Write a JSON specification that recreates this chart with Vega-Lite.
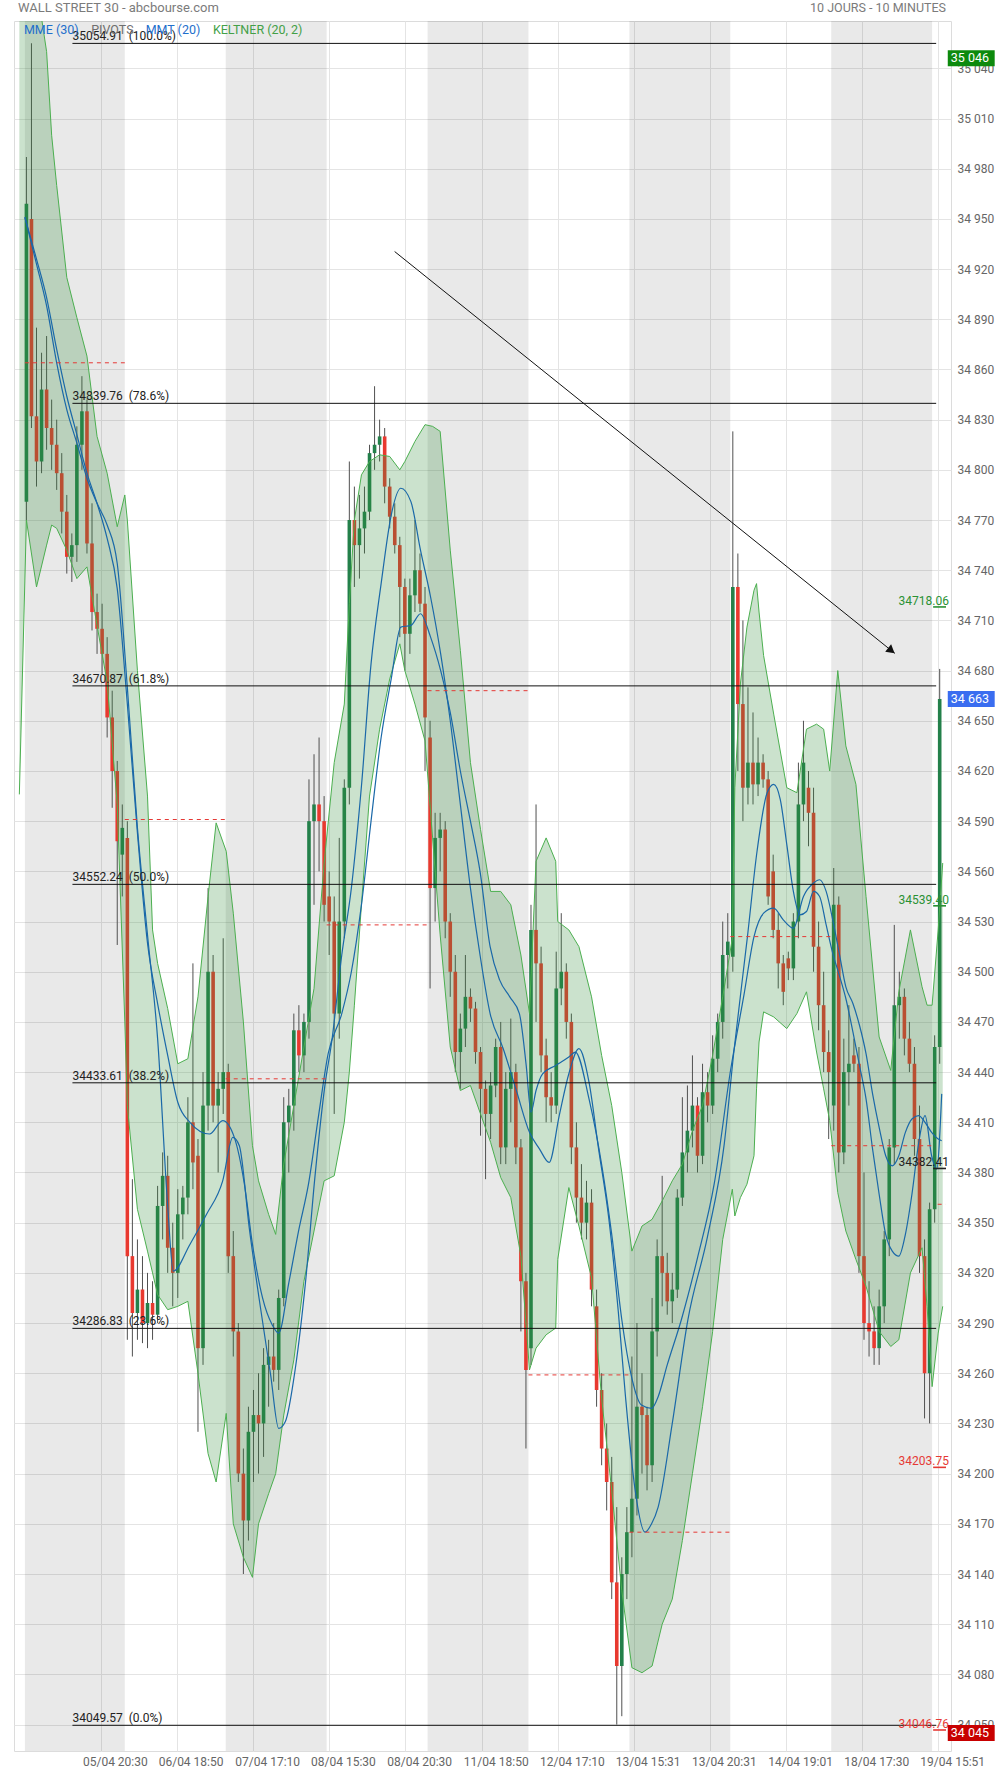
{
"$schema": "https://vega.github.io/schema/vega-lite/v6.json",
"width": 937, "height": 1730, "autosize": "none",
"padding": {"left": 14, "top": 21, "right": 49, "bottom": 23},
"background": "white",
"config": {"view": {"stroke": "#dcdcdc"}, "text": {"font": "Roboto"}, "axis": {"labelFont": "Roboto"}},
"resolve": {"scale": {"color": "independent"}},
"datasets": {
"bands": [{"a":-0.3,"b":19.5},{"a":39.5,"b":59.5},{"a":79.5,"b":99.5},{"a":119.5,"b":139.5},{"a":159.5,"b":179.5}],
"pivots": [{"a":-0.3,"b":19.5,"v":34864},{"a":19.5,"b":39.5,"v":34591},{"a":39.5,"b":59.5,"v":34436},{"a":59.5,"b":79.5,"v":34528},{"a":79.5,"b":99.5,"v":34668},{"a":99.5,"b":119.5,"v":34259},{"a":119.5,"b":139.5,"v":34165},{"a":139.5,"b":159.5,"v":34521},{"a":159.5,"b":179.5,"v":34396},{"a":180.6,"b":182.2,"v":34361}],
"candles": [
{"t":0,"o":34781,"h":34987,"l":34770,"c":34959},{"t":1,"o":34950,"h":35055,"l":34825,"c":34832},{"t":2,"o":34832,"h":34885,"l":34790,"c":34805},{"t":3,"o":34805,"h":34870,"l":34798,"c":34848},{"t":4,"o":34848,"h":34880,"l":34812,"c":34825},{"t":5,"o":34825,"h":34842,"l":34800,"c":34815},{"t":6,"o":34815,"h":34830,"l":34788,"c":34798},{"t":7,"o":34798,"h":34810,"l":34762,"c":34775},{"t":8,"o":34775,"h":34785,"l":34738,"c":34748},{"t":9,"o":34748,"h":34762,"l":34733,"c":34755},
{"t":10,"o":34755,"h":34826,"l":34745,"c":34815},{"t":11,"o":34815,"h":34856,"l":34800,"c":34835},{"t":12,"o":34835,"h":34842,"l":34750,"c":34756},{"t":13,"o":34756,"h":34780,"l":34704,"c":34715},{"t":14,"o":34715,"h":34726,"l":34690,"c":34705},{"t":15,"o":34705,"h":34720,"l":34678,"c":34690},{"t":16,"o":34690,"h":34700,"l":34640,"c":34652},{"t":17,"o":34652,"h":34668,"l":34598,"c":34620},{"t":18,"o":34620,"h":34626,"l":34516,"c":34578},{"t":19,"o":34570,"h":34600,"l":34545,"c":34586},
{"t":20,"o":34580,"h":34590,"l":34280,"c":34330},{"t":21,"o":34330,"h":34376,"l":34270,"c":34296},{"t":22,"o":34296,"h":34340,"l":34280,"c":34310},{"t":23,"o":34310,"h":34330,"l":34278,"c":34290},{"t":24,"o":34290,"h":34320,"l":34275,"c":34302},{"t":25,"o":34302,"h":34315,"l":34280,"c":34295},{"t":26,"o":34295,"h":34372,"l":34290,"c":34360},{"t":27,"o":34360,"h":34392,"l":34340,"c":34378},{"t":28,"o":34378,"h":34390,"l":34320,"c":34335},{"t":29,"o":34335,"h":34350,"l":34300,"c":34320},
{"t":30,"o":34320,"h":34370,"l":34305,"c":34355},{"t":31,"o":34355,"h":34372,"l":34340,"c":34365},{"t":32,"o":34365,"h":34425,"l":34355,"c":34410},{"t":33,"o":34410,"h":34505,"l":34370,"c":34386},{"t":34,"o":34390,"h":34400,"l":34225,"c":34275},{"t":35,"o":34275,"h":34440,"l":34265,"c":34420},{"t":36,"o":34420,"h":34550,"l":34405,"c":34500},{"t":37,"o":34500,"h":34510,"l":34410,"c":34420},{"t":38,"o":34420,"h":34440,"l":34380,"c":34430},{"t":39,"o":34430,"h":34520,"l":34415,"c":34440},
{"t":40,"o":34440,"h":34445,"l":34320,"c":34330},{"t":41,"o":34330,"h":34345,"l":34270,"c":34285},{"t":42,"o":34285,"h":34290,"l":34195,"c":34200},{"t":43,"o":34200,"h":34215,"l":34140,"c":34172},{"t":44,"o":34172,"h":34240,"l":34160,"c":34225},{"t":45,"o":34225,"h":34250,"l":34195,"c":34235},{"t":46,"o":34235,"h":34260,"l":34200,"c":34230},{"t":47,"o":34230,"h":34275,"l":34210,"c":34265},{"t":48,"o":34265,"h":34280,"l":34240,"c":34270},{"t":49,"o":34270,"h":34290,"l":34255,"c":34262},
{"t":50,"o":34262,"h":34310,"l":34250,"c":34305},{"t":51,"o":34305,"h":34425,"l":34300,"c":34410},{"t":52,"o":34410,"h":34430,"l":34380,"c":34420},{"t":53,"o":34420,"h":34475,"l":34405,"c":34465},{"t":54,"o":34465,"h":34480,"l":34440,"c":34450},{"t":55,"o":34450,"h":34475,"l":34440,"c":34470},{"t":56,"o":34470,"h":34615,"l":34460,"c":34590},{"t":57,"o":34590,"h":34630,"l":34540,"c":34600},{"t":58,"o":34600,"h":34640,"l":34560,"c":34590},{"t":59,"o":34590,"h":34605,"l":34530,"c":34540},
{"t":60,"o":34545,"h":34560,"l":34510,"c":34530},{"t":61,"o":34530,"h":34545,"l":34415,"c":34475},{"t":62,"o":34475,"h":34580,"l":34460,"c":34530},{"t":63,"o":34530,"h":34615,"l":34520,"c":34610},{"t":64,"o":34610,"h":34805,"l":34600,"c":34770},{"t":65,"o":34770,"h":34790,"l":34730,"c":34755},{"t":66,"o":34755,"h":34785,"l":34735,"c":34765},{"t":67,"o":34765,"h":34790,"l":34750,"c":34775},{"t":68,"o":34775,"h":34815,"l":34770,"c":34810},{"t":69,"o":34810,"h":34850,"l":34800,"c":34815},
{"t":70,"o":34815,"h":34830,"l":34805,"c":34820},{"t":71,"o":34820,"h":34825,"l":34780,"c":34790},{"t":72,"o":34790,"h":34795,"l":34765,"c":34772},{"t":73,"o":34772,"h":34780,"l":34750,"c":34755},{"t":74,"o":34755,"h":34760,"l":34700,"c":34730},{"t":75,"o":34730,"h":34735,"l":34680,"c":34702},{"t":76,"o":34702,"h":34735,"l":34690,"c":34725},{"t":77,"o":34725,"h":34770,"l":34715,"c":34740},{"t":78,"o":34740,"h":34750,"l":34715,"c":34720},{"t":79,"o":34720,"h":34730,"l":34620,"c":34652},
{"t":80,"o":34640,"h":34650,"l":34490,"c":34550},{"t":81,"o":34550,"h":34595,"l":34530,"c":34580},{"t":82,"o":34580,"h":34595,"l":34560,"c":34585},{"t":83,"o":34585,"h":34590,"l":34520,"c":34530},{"t":84,"o":34530,"h":34535,"l":34485,"c":34500},{"t":85,"o":34500,"h":34510,"l":34440,"c":34452},{"t":86,"o":34452,"h":34475,"l":34430,"c":34466},{"t":87,"o":34466,"h":34510,"l":34455,"c":34485},{"t":88,"o":34485,"h":34490,"l":34470,"c":34478},{"t":89,"o":34478,"h":34482,"l":34445,"c":34452},
{"t":90,"o":34452,"h":34455,"l":34402,"c":34430},{"t":91,"o":34430,"h":34435,"l":34376,"c":34415},{"t":92,"o":34415,"h":34440,"l":34400,"c":34432},{"t":93,"o":34432,"h":34460,"l":34425,"c":34455},{"t":94,"o":34455,"h":34470,"l":34385,"c":34395},{"t":95,"o":34395,"h":34440,"l":34385,"c":34430},{"t":96,"o":34430,"h":34472,"l":34410,"c":34440},{"t":97,"o":34440,"h":34445,"l":34385,"c":34395},{"t":98,"o":34395,"h":34400,"l":34285,"c":34315},{"t":99,"o":34315,"h":34320,"l":34215,"c":34262},
{"t":100,"o":34275,"h":34540,"l":34265,"c":34525},{"t":101,"o":34525,"h":34600,"l":34470,"c":34505},{"t":102,"o":34505,"h":34515,"l":34440,"c":34450},{"t":103,"o":34450,"h":34460,"l":34410,"c":34425},{"t":104,"o":34425,"h":34440,"l":34410,"c":34420},{"t":105,"o":34420,"h":34512,"l":34415,"c":34490},{"t":106,"o":34490,"h":34535,"l":34480,"c":34500},{"t":107,"o":34500,"h":34505,"l":34460,"c":34470},{"t":108,"o":34470,"h":34475,"l":34385,"c":34395},{"t":109,"o":34395,"h":34410,"l":34350,"c":34365},
{"t":110,"o":34365,"h":34385,"l":34340,"c":34350},{"t":111,"o":34350,"h":34375,"l":34340,"c":34362},{"t":112,"o":34362,"h":34370,"l":34300,"c":34310},{"t":113,"o":34300,"h":34310,"l":34240,"c":34250},{"t":114,"o":34250,"h":34260,"l":34205,"c":34215},{"t":115,"o":34215,"h":34230,"l":34178,"c":34195},{"t":116,"o":34195,"h":34210,"l":34125,"c":34135},{"t":117,"o":34135,"h":34180,"l":34050,"c":34085},{"t":118,"o":34085,"h":34150,"l":34055,"c":34140},{"t":119,"o":34140,"h":34180,"l":34125,"c":34165},
{"t":120,"o":34165,"h":34270,"l":34150,"c":34185},{"t":121,"o":34185,"h":34290,"l":34175,"c":34240},{"t":122,"o":34240,"h":34260,"l":34200,"c":34235},{"t":123,"o":34235,"h":34240,"l":34190,"c":34205},{"t":124,"o":34205,"h":34305,"l":34195,"c":34285},{"t":125,"o":34285,"h":34340,"l":34270,"c":34330},{"t":126,"o":34330,"h":34378,"l":34300,"c":34320},{"t":127,"o":34320,"h":34332,"l":34295,"c":34303},{"t":128,"o":34303,"h":34320,"l":34290,"c":34310},{"t":129,"o":34310,"h":34370,"l":34305,"c":34365},
{"t":130,"o":34365,"h":34425,"l":34360,"c":34392},{"t":131,"o":34392,"h":34432,"l":34380,"c":34405},{"t":132,"o":34405,"h":34450,"l":34395,"c":34420},{"t":133,"o":34420,"h":34425,"l":34380,"c":34390},{"t":134,"o":34390,"h":34445,"l":34385,"c":34428},{"t":135,"o":34428,"h":34440,"l":34410,"c":34420},{"t":136,"o":34420,"h":34462,"l":34415,"c":34448},{"t":137,"o":34448,"h":34475,"l":34440,"c":34470},{"t":138,"o":34470,"h":34530,"l":34460,"c":34510},{"t":139,"o":34510,"h":34535,"l":34490,"c":34518},
{"t":140,"o":34509,"h":34823,"l":34500,"c":34730},{"t":141,"o":34730,"h":34750,"l":34620,"c":34660},{"t":142,"o":34660,"h":34710,"l":34590,"c":34610},{"t":143,"o":34610,"h":34670,"l":34600,"c":34625},{"t":144,"o":34625,"h":34655,"l":34600,"c":34612},{"t":145,"o":34612,"h":34640,"l":34605,"c":34625},{"t":146,"o":34625,"h":34630,"l":34610,"c":34615},{"t":147,"o":34615,"h":34620,"l":34540,"c":34545},{"t":148,"o":34560,"h":34570,"l":34520,"c":34525},{"t":149,"o":34525,"h":34535,"l":34490,"c":34505},
{"t":150,"o":34505,"h":34510,"l":34480,"c":34488},{"t":151,"o":34508,"h":34512,"l":34495,"c":34502},{"t":152,"o":34502,"h":34535,"l":34495,"c":34530},{"t":153,"o":34530,"h":34625,"l":34520,"c":34600},{"t":154,"o":34600,"h":34650,"l":34590,"c":34625},{"t":155,"o":34610,"h":34620,"l":34575,"c":34595},{"t":156,"o":34595,"h":34610,"l":34500,"c":34515},{"t":157,"o":34515,"h":34530,"l":34465,"c":34480},{"t":158,"o":34480,"h":34500,"l":34440,"c":34452},{"t":159,"o":34452,"h":34465,"l":34400,"c":34440},
{"t":160,"o":34420,"h":34562,"l":34405,"c":34540},{"t":161,"o":34540,"h":34545,"l":34380,"c":34392},{"t":162,"o":34392,"h":34460,"l":34385,"c":34440},{"t":163,"o":34440,"h":34480,"l":34420,"c":34445},{"t":164,"o":34450,"h":34460,"l":34440,"c":34445},{"t":165,"o":34445,"h":34455,"l":34320,"c":34330},{"t":166,"o":34330,"h":34380,"l":34280,"c":34290},{"t":167,"o":34290,"h":34315,"l":34270,"c":34285},{"t":168,"o":34285,"h":34300,"l":34265,"c":34275},{"t":169,"o":34275,"h":34310,"l":34265,"c":34300},
{"t":170,"o":34300,"h":34345,"l":34290,"c":34340},{"t":171,"o":34340,"h":34400,"l":34330,"c":34395},{"t":172,"o":34395,"h":34528,"l":34385,"c":34480},{"t":173,"o":34480,"h":34500,"l":34460,"c":34485},{"t":174,"o":34485,"h":34490,"l":34450,"c":34460},{"t":175,"o":34460,"h":34470,"l":34440,"c":34445},{"t":176,"o":34445,"h":34455,"l":34390,"c":34400},{"t":177,"o":34400,"h":34420,"l":34320,"c":34330},{"t":178,"o":34330,"h":34340,"l":34233,"c":34260},{"t":179,"o":34260,"h":34362,"l":34230,"c":34358},
{"t":180,"o":34358,"h":34462,"l":34350,"c":34455},{"t":181,"o":34455,"h":34681,"l":34445,"c":34663}],
"keltner": [
{"t":-1.4,"u":35100,"l":34606},{"t":0,"u":35100,"l":34770},{"t":2,"u":35090,"l":34730},{"t":4,"u":35050,"l":34755},{"t":5,"u":35000,"l":34767},{"t":6,"u":34970,"l":34765},{"t":8,"u":34915,"l":34752},{"t":10,"u":34891,"l":34735},{"t":12,"u":34868,"l":34742},{"t":14,"u":34820,"l":34707},{"t":16,"u":34798,"l":34673},{"t":18,"u":34766,"l":34600},{"t":19.5,"u":34785,"l":34470},{"t":20,"u":34770,"l":34420},{"t":22,"u":34680,"l":34358},{"t":24,"u":34605,"l":34333},{"t":25,"u":34525,"l":34320},{"t":26,"u":34505,"l":34307},{"t":28,"u":34478,"l":34298},{"t":30,"u":34445,"l":34300},
{"t":32,"u":34448,"l":34303},{"t":34,"u":34485,"l":34260},{"t":36,"u":34545,"l":34212},{"t":37.6,"u":34589,"l":34195},{"t":39.6,"u":34572,"l":34236},{"t":41,"u":34535,"l":34170},{"t":43,"u":34470,"l":34150},{"t":44.8,"u":34396,"l":34138},{"t":46,"u":34375,"l":34170},{"t":48,"u":34355,"l":34188},{"t":49.4,"u":34343,"l":34200},{"t":51,"u":34385,"l":34235},{"t":53,"u":34420,"l":34268},{"t":55,"u":34455,"l":34315},{"t":57,"u":34490,"l":34345},{"t":59,"u":34565,"l":34375},
{"t":61,"u":34625,"l":34378},{"t":63,"u":34660,"l":34410},{"t":64,"u":34720,"l":34440},{"t":65,"u":34770,"l":34480},{"t":66.4,"u":34797,"l":34540},{"t":68,"u":34805,"l":34605},{"t":70,"u":34809,"l":34645},{"t":72,"u":34808,"l":34675},{"t":74,"u":34800,"l":34696},{"t":75,"u":34805,"l":34680},{"t":77,"u":34817,"l":34660},{"t":79,"u":34827,"l":34638},{"t":80.5,"u":34826,"l":34580},{"t":82,"u":34823,"l":34522},{"t":84,"u":34752,"l":34455},{"t":86,"u":34692,"l":34429},{"t":88,"u":34625,"l":34432},{"t":90,"u":34585,"l":34415},
{"t":92,"u":34548,"l":34398},{"t":94,"u":34548,"l":34377},{"t":96,"u":34540,"l":34365},{"t":98,"u":34510,"l":34330},{"t":99.7,"u":34475,"l":34262},{"t":101,"u":34566,"l":34275},{"t":103,"u":34580,"l":34283},{"t":104.9,"u":34566,"l":34287},{"t":105.3,"u":34530,"l":34328},{"t":107.5,"u":34525,"l":34371},{"t":109.5,"u":34515,"l":34348},{"t":112,"u":34485,"l":34317},{"t":114,"u":34450,"l":34245},{"t":116,"u":34420,"l":34190},{"t":118,"u":34380,"l":34130},{"t":120,"u":34333,"l":34084},
{"t":122,"u":34348,"l":34081},{"t":124,"u":34352,"l":34085},{"t":126,"u":34363,"l":34110},{"t":128,"u":34375,"l":34125},{"t":130,"u":34385,"l":34160},{"t":132,"u":34405,"l":34200},{"t":134,"u":34420,"l":34240},{"t":136,"u":34450,"l":34285},{"t":138,"u":34485,"l":34340},{"t":139.9,"u":34520,"l":34370},{"t":140.4,"u":34610,"l":34354},{"t":141.5,"u":34672,"l":34365},{"t":142.8,"u":34706,"l":34373},{"t":144.2,"u":34728,"l":34390},{"t":144.7,"u":34732,"l":34430},{"t":145.2,"u":34715,"l":34458},{"t":146.1,"u":34689,"l":34476},{"t":148.1,"u":34654,"l":34473},
{"t":150.7,"u":34610,"l":34466},{"t":152.7,"u":34607,"l":34475},{"t":154.6,"u":34645,"l":34488},{"t":156.6,"u":34648,"l":34452},{"t":158,"u":34645,"l":34430},{"t":159.2,"u":34620,"l":34411},{"t":160.8,"u":34680,"l":34368},{"t":162.4,"u":34635,"l":34345},{"t":164.4,"u":34612,"l":34328},{"t":166.4,"u":34545,"l":34312},{"t":169,"u":34461,"l":34285},{"t":171.3,"u":34441,"l":34276},{"t":172.9,"u":34488,"l":34280},{"t":175.2,"u":34525,"l":34320},{"t":177.5,"u":34491,"l":34335},{"t":178.5,"u":34480,"l":34300},{"t":179.5,"u":34480,"l":34252},{"t":180.7,"u":34525,"l":34284},{"t":181.6,"u":34565,"l":34300}],
"mme": [{"t":-0.3,"v":34951},{"t":2,"v":34926},{"t":4,"v":34903},{"t":6,"v":34872},{"t":8,"v":34844},{"t":10,"v":34821},{"t":12,"v":34798},{"t":14,"v":34780},{"t":16,"v":34759},{"t":18,"v":34729},{"t":20,"v":34660},{"t":22,"v":34583},{"t":24,"v":34517},{"t":26,"v":34481},{"t":28,"v":34450},{"t":30,"v":34422},{"t":32.4,"v":34410},{"t":36.3,"v":34403},{"t":38.9,"v":34411},{"t":41.2,"v":34401},{"t":43.2,"v":34373},{"t":44.8,"v":34337},{"t":46.8,"v":34305},{"t":48.7,"v":34289},{"t":50,"v":34284},{"t":52,"v":34314},{"t":54,"v":34346},{"t":55.9,"v":34373},{"t":57.9,"v":34414},{"t":59.8,"v":34451},{"t":62.5,"v":34475},{"t":64.4,"v":34500},{"t":66.4,"v":34540},{"t":68.3,"v":34590},{"t":70.3,"v":34640},{"t":72.3,"v":34675},{"t":74.2,"v":34706},{"t":76.2,"v":34707},{"t":78.1,"v":34714},{"t":80.1,"v":34700},{"t":82.1,"v":34680},{"t":84,"v":34655},{"t":86,"v":34620},{"t":88,"v":34590},{"t":89.9,"v":34560},{"t":91.9,"v":34515},{"t":93.8,"v":34495},{"t":95.8,"v":34485},{"t":97.7,"v":34475},{"t":99.05,"v":34444},{"t":100,"v":34416},{"t":101,"v":34429},{"t":102.3,"v":34439},{"t":104.9,"v":34444},{"t":107.5,"v":34449},{"t":108.8,"v":34452},{"t":111.5,"v":34424},{"t":114.1,"v":34383},{"t":116,"v":34343},{"t":118,"v":34292},{"t":120,"v":34257},{"t":121.9,"v":34241},{"t":123.9,"v":34239},{"t":125.2,"v":34246},{"t":127,"v":34265},{"t":129.8,"v":34292},{"t":133,"v":34329},{"t":136.3,"v":34373},{"t":139.6,"v":34442},{"t":142.2,"v":34486},{"t":144.2,"v":34521},{"t":146.1,"v":34535},{"t":148.1,"v":34538},{"t":150,"v":34531},{"t":152,"v":34526},{"t":154,"v":34545},{"t":156,"v":34553},{"t":157.2,"v":34555},{"t":158.5,"v":34548},{"t":159.8,"v":34531},{"t":161.1,"v":34511},{"t":162.4,"v":34491},{"t":163.8,"v":34481},{"t":165.1,"v":34468},{"t":166.4,"v":34451},{"t":167.7,"v":34427},{"t":169,"v":34407},{"t":170.3,"v":34390},{"t":171.6,"v":34384},{"t":172.9,"v":34390},{"t":174.2,"v":34404},{"t":175.5,"v":34412},{"t":176.8,"v":34414},{"t":178.1,"v":34410},{"t":179.4,"v":34404},{"t":180.7,"v":34400},{"t":181.4,"v":34399}],
"mmt": [{"t":-0.3,"v":34951},{"t":2,"v":34923},{"t":4,"v":34898},{"t":6,"v":34864},{"t":8,"v":34836},{"t":10,"v":34816},{"t":12,"v":34795},{"t":14,"v":34780},{"t":16,"v":34767},{"t":18,"v":34744},{"t":20,"v":34670},{"t":22,"v":34586},{"t":24,"v":34522},{"t":26,"v":34460},{"t":28,"v":34360},{"t":29.1,"v":34321},{"t":32.4,"v":34337},{"t":35.7,"v":34355},{"t":38.9,"v":34375},{"t":40.9,"v":34401},{"t":42.2,"v":34396},{"t":44.2,"v":34346},{"t":46.1,"v":34305},{"t":48.4,"v":34259},{"t":50,"v":34227},{"t":51.3,"v":34231},{"t":53.3,"v":34263},{"t":55.3,"v":34314},{"t":57.2,"v":34378},{"t":59.2,"v":34433},{"t":60.5,"v":34458},{"t":62.5,"v":34510},{"t":64.4,"v":34550},{"t":66.4,"v":34611},{"t":68.3,"v":34684},{"t":70.3,"v":34732},{"t":72.3,"v":34773},{"t":74.2,"v":34789},{"t":76.2,"v":34781},{"t":78.1,"v":34752},{"t":80.1,"v":34724},{"t":82.1,"v":34690},{"t":84,"v":34650},{"t":86,"v":34600},{"t":88,"v":34550},{"t":89.9,"v":34510},{"t":91.9,"v":34475},{"t":94.5,"v":34454},{"t":97.1,"v":34429},{"t":99.7,"v":34404},{"t":101.7,"v":34394},{"t":103.6,"v":34386},{"t":105.6,"v":34414},{"t":107.5,"v":34439},{"t":109.5,"v":34454},{"t":111.5,"v":34434},{"t":113.4,"v":34394},{"t":115.4,"v":34353},{"t":117.3,"v":34297},{"t":118.7,"v":34247},{"t":120.6,"v":34191},{"t":122.6,"v":34165},{"t":123.9,"v":34170},{"t":125.2,"v":34180},{"t":128,"v":34230},{"t":131.1,"v":34292},{"t":135,"v":34342},{"t":138.3,"v":34397},{"t":140.2,"v":34452},{"t":142.9,"v":34521},{"t":144.8,"v":34572},{"t":146.8,"v":34607},{"t":148.1,"v":34612},{"t":149.4,"v":34603},{"t":150.7,"v":34576},{"t":152,"v":34548},{"t":153.3,"v":34534},{"t":154.6,"v":34536},{"t":156,"v":34548},{"t":157.2,"v":34545},{"t":158.5,"v":34528},{"t":159.8,"v":34511},{"t":161.1,"v":34498},{"t":162.4,"v":34484},{"t":163.8,"v":34464},{"t":165.1,"v":34444},{"t":166.4,"v":34424},{"t":167.7,"v":34394},{"t":169,"v":34367},{"t":170.3,"v":34343},{"t":171.6,"v":34333},{"t":172.9,"v":34330},{"t":174.2,"v":34343},{"t":175.5,"v":34367},{"t":176.8,"v":34397},{"t":178.1,"v":34414},{"t":179.4,"v":34390},{"t":180.4,"v":34382},{"t":181.4,"v":34427}],
"fib": [{"v":35054.91,"lab":"35054.91\u00a0 (100.0%)"},{"v":34839.76,"lab":"34839.76\u00a0 (78.6%)"},{"v":34670.87,"lab":"34670.87\u00a0 (61.8%)"},{"v":34552.24,"lab":"34552.24\u00a0 (50.0%)"},{"v":34433.61,"lab":"34433.61\u00a0 (38.2%)"},{"v":34286.83,"lab":"34286.83\u00a0 (23.6%)"},{"v":34049.57,"lab":"34049.57\u00a0 (0.0%)"}],
"arrow": [{"x1":72.98,"y1":34930.5,"x2":172.12,"y2":34690.3}],
"plabels": [{"v":34718.06,"k":"R","lab":"34718.06"},{"v":34539.40,"k":"R","lab":"34539.40"},{"v":34382.41,"k":"P","lab":"34382.41"},{"v":34203.75,"k":"S","lab":"34203.75"},{"v":34046.76,"k":"S","lab":"34046.76"}],
"marks": [{"v":35046,"k":"hi","lab":"35 046"},{"v":34663,"k":"last","lab":"34 663"},{"v":34045,"k":"lo","lab":"34 045"}],
"one": [{}]
},
"layer": [
{"data": {"name": "candles"}, "mark": {"type": "rule", "color": "#505050", "strokeWidth": 1, "opacity": 0},
 "encoding": {
  "x": {"field": "t", "type": "quantitative", "title": null, "scale": {"domain": [-1.47, 182.25], "nice": false, "zero": false},
   "axis": {"orient": "bottom", "values": [14.75, 29.76, 44.94, 59.96, 75.06, 90.24, 105.33, 120.35, 135.45, 150.55, 165.65, 180.69],
    "labelExpr": "['05/04 20:30','06/04 18:50','07/04 17:10','08/04 15:30','08/04 20:30','11/04 18:50','12/04 17:10','13/04 15:31','13/04 20:31','14/04 19:01','18/04 17:30','19/04 15:51'][round((datum.value - 14.75) / 15.085)]",
    "labelOffset": 14, "labelFontSize": 12, "labelColor": "#666666", "labelPadding": 5, "labelOverlap": false, "labelFlush": false, "labelBound": false,
    "ticks": false, "domain": false, "grid": true, "gridColor": "#e4e4e4", "gridWidth": 1, "title": null}},
  "y": {"field": "l", "type": "quantitative", "title": null, "scale": {"domain": [34034.2, 35068.3], "nice": false, "zero": false},
   "axis": {"orient": "right", "values": [34050,34080,34110,34140,34170,34200,34230,34260,34290,34320,34350,34380,34410,34440,34470,34500,34530,34560,34590,34620,34650,34680,34710,34740,34770,34800,34830,34860,34890,34920,34950,34980,35010,35040],
    "labelExpr": "replace(format(datum.value, ','), ',', ' ')", "labelFontSize": 12, "labelColor": "#666666", "labelPadding": 6, "labelAlign": "left", "labelOverlap": false, "labelBound": false, "labelFlush": false,
    "ticks": false, "domain": false, "grid": true, "gridColor": "#e4e4e4", "gridWidth": 1, "title": null}},
  "y2": {"field": "h"}}},
{"data": {"name": "bands"}, "mark": {"type": "rect", "color": "#000000", "opacity": 0.085},
 "encoding": {"x": {"field": "a", "type": "quantitative", "title": null, "scale": {"domain": [-1.47, 182.25], "nice": false, "zero": false}}, "x2": {"field": "b"}}},
{"data": {"name": "candles"}, "mark": {"type": "rule", "color": "#505050", "strokeWidth": 1},
 "encoding": {
  "x": {"field": "t", "type": "quantitative", "title": null, "scale": {"domain": [-1.47, 182.25], "nice": false, "zero": false}},
  "y": {"field": "l", "type": "quantitative", "title": null, "scale": {"domain": [34034.2, 35068.3], "nice": false, "zero": false}},
  "y2": {"field": "h"}}},
{"data": {"name": "candles"}, "mark": {"type": "bar", "width": 3.6},
 "encoding": {
  "x": {"field": "t", "type": "quantitative", "title": null, "scale": {"domain": [-1.47, 182.25], "nice": false, "zero": false}},
  "y": {"field": "o", "type": "quantitative", "title": null, "scale": {"domain": [34034.2, 35068.3], "nice": false, "zero": false}},
  "y2": {"field": "c"},
  "color": {"condition": {"test": "datum.c >= datum.o", "value": "#23804a"}, "value": "#e8392f"}}},
{"data": {"name": "keltner"}, "mark": {"type": "area", "color": "#388e3c", "opacity": 0.26, "clip": true},
 "encoding": {
  "x": {"field": "t", "type": "quantitative", "title": null, "scale": {"domain": [-1.47, 182.25], "nice": false, "zero": false}},
  "y": {"field": "u", "type": "quantitative", "title": null, "scale": {"domain": [34034.2, 35068.3], "nice": false, "zero": false}},
  "y2": {"field": "l"}}},
{"data": {"name": "keltner"}, "mark": {"type": "line", "color": "#4caf50", "strokeWidth": 1, "clip": true},
 "encoding": {
  "x": {"field": "t", "type": "quantitative", "title": null, "scale": {"domain": [-1.47, 182.25], "nice": false, "zero": false}},
  "y": {"field": "u", "type": "quantitative", "title": null, "scale": {"domain": [34034.2, 35068.3], "nice": false, "zero": false}}}},
{"data": {"name": "keltner"}, "mark": {"type": "line", "color": "#4caf50", "strokeWidth": 1, "clip": true},
 "encoding": {
  "x": {"field": "t", "type": "quantitative", "title": null, "scale": {"domain": [-1.47, 182.25], "nice": false, "zero": false}},
  "y": {"field": "l", "type": "quantitative", "title": null, "scale": {"domain": [34034.2, 35068.3], "nice": false, "zero": false}}}},
{"data": {"name": "mme"}, "mark": {"type": "line", "color": "#1a68a8", "strokeWidth": 1.2, "interpolate": "monotone"},
 "encoding": {
  "x": {"field": "t", "type": "quantitative", "title": null, "scale": {"domain": [-1.47, 182.25], "nice": false, "zero": false}},
  "y": {"field": "v", "type": "quantitative", "title": null, "scale": {"domain": [34034.2, 35068.3], "nice": false, "zero": false}}}},
{"data": {"name": "mmt"}, "mark": {"type": "line", "color": "#1a68a8", "strokeWidth": 1.2, "interpolate": "monotone"},
 "encoding": {
  "x": {"field": "t", "type": "quantitative", "title": null, "scale": {"domain": [-1.47, 182.25], "nice": false, "zero": false}},
  "y": {"field": "v", "type": "quantitative", "title": null, "scale": {"domain": [34034.2, 35068.3], "nice": false, "zero": false}}}},
{"data": {"name": "pivots"}, "mark": {"type": "rule", "color": "#e53935", "strokeWidth": 1, "strokeDash": [4, 4]},
 "encoding": {
  "x": {"field": "a", "type": "quantitative", "title": null, "scale": {"domain": [-1.47, 182.25], "nice": false, "zero": false}},
  "x2": {"field": "b"},
  "y": {"field": "v", "type": "quantitative", "title": null, "scale": {"domain": [34034.2, 35068.3], "nice": false, "zero": false}}}},
{"data": {"name": "fib"}, "mark": {"type": "rule", "color": "#111111", "strokeWidth": 1},
 "encoding": {
  "x": {"datum": 9.12, "type": "quantitative", "title": null, "scale": {"domain": [-1.47, 182.25], "nice": false, "zero": false}},
  "x2": {"datum": 180.3},
  "y": {"field": "v", "type": "quantitative", "title": null, "scale": {"domain": [34034.2, 35068.3], "nice": false, "zero": false}}}},
{"data": {"name": "fib"}, "mark": {"type": "text", "align": "left", "baseline": "alphabetic", "dy": -3, "fontSize": 12, "color": "#222222"},
 "encoding": {
  "x": {"datum": 9.12, "type": "quantitative", "title": null, "scale": {"domain": [-1.47, 182.25], "nice": false, "zero": false}},
  "y": {"field": "v", "type": "quantitative", "title": null, "scale": {"domain": [34034.2, 35068.3], "nice": false, "zero": false}},
  "text": {"field": "lab"}}},
{"data": {"name": "arrow"}, "mark": {"type": "rule", "color": "#111111", "strokeWidth": 1},
 "encoding": {
  "x": {"field": "x1", "type": "quantitative", "title": null, "scale": {"domain": [-1.47, 182.25], "nice": false, "zero": false}},
  "x2": {"field": "x2"},
  "y": {"field": "y1", "type": "quantitative", "title": null, "scale": {"domain": [34034.2, 35068.3], "nice": false, "zero": false}},
  "y2": {"field": "y2"}}},
{"data": {"name": "arrow"}, "mark": {"type": "point", "shape": "triangle-right", "filled": true, "color": "#111111", "opacity": 1, "size": 90, "angle": 38.5, "xOffset": -3.5, "yOffset": -2.8},
 "encoding": {
  "x": {"field": "x2", "type": "quantitative", "title": null, "scale": {"domain": [-1.47, 182.25], "nice": false, "zero": false}},
  "y": {"field": "y2", "type": "quantitative", "title": null, "scale": {"domain": [34034.2, 35068.3], "nice": false, "zero": false}}}},
{"data": {"name": "plabels"}, "mark": {"type": "rule", "strokeWidth": 1.6},
 "encoding": {
  "x": {"datum": 179.7, "type": "quantitative", "title": null, "scale": {"domain": [-1.47, 182.25], "nice": false, "zero": false}},
  "x2": {"datum": 182.25},
  "y": {"field": "v", "type": "quantitative", "title": null, "scale": {"domain": [34034.2, 35068.3], "nice": false, "zero": false}},
  "color": {"field": "k", "type": "nominal", "scale": {"domain": ["R", "P", "S"], "range": ["#2a9134", "#222222", "#e53935"]}, "legend": null}}},
{"data": {"name": "plabels"}, "mark": {"type": "text", "align": "right", "baseline": "alphabetic", "dy": -2, "fontSize": 12},
 "encoding": {
  "x": {"datum": 182.84, "type": "quantitative", "title": null, "scale": {"domain": [-1.47, 182.25], "nice": false, "zero": false}},
  "y": {"field": "v", "type": "quantitative", "title": null, "scale": {"domain": [34034.2, 35068.3], "nice": false, "zero": false}},
  "text": {"field": "lab"},
  "color": {"field": "k", "type": "nominal", "scale": {"domain": ["R", "P", "S"], "range": ["#2a9134", "#222222", "#e53935"]}, "legend": null}}},
{"data": {"name": "marks"}, "mark": {"type": "rect", "height": 16},
 "encoding": {
  "x": {"datum": 182.6, "type": "quantitative", "title": null, "scale": {"domain": [-1.47, 182.25], "nice": false, "zero": false}},
  "x2": {"datum": 191.9},
  "y": {"field": "v", "type": "quantitative", "title": null, "scale": {"domain": [34034.2, 35068.3], "nice": false, "zero": false}},
  "color": {"field": "k", "type": "nominal", "scale": {"domain": ["hi", "last", "lo"], "range": ["#0d8a0d", "#3a6df0", "#c80000"]}, "legend": null}}},
{"data": {"name": "marks"}, "mark": {"type": "text", "align": "left", "baseline": "middle", "fontSize": 12.5, "color": "#ffffff"},
 "encoding": {
  "x": {"datum": 183.2, "type": "quantitative", "title": null, "scale": {"domain": [-1.47, 182.25], "nice": false, "zero": false}},
  "y": {"field": "v", "type": "quantitative", "title": null, "scale": {"domain": [34034.2, 35068.3], "nice": false, "zero": false}},
  "text": {"field": "lab"}}},
{"data": {"name": "one"}, "mark": {"type": "text", "text": "WALL STREET 30 - abcbourse.com", "align": "left", "baseline": "middle", "fontSize": 13, "color": "#7b7b7b", "dx": -1},
 "encoding": {
  "x": {"datum": -1.47, "type": "quantitative", "title": null, "scale": {"domain": [-1.47, 182.25], "nice": false, "zero": false}},
  "y": {"datum": 35075.8, "type": "quantitative", "title": null, "scale": {"domain": [34034.2, 35068.3], "nice": false, "zero": false}}}},
{"data": {"name": "one"}, "mark": {"type": "text", "text": "10 JOURS - 10 MINUTES", "align": "right", "baseline": "middle", "fontSize": 12.5, "color": "#7b7b7b"},
 "encoding": {
  "x": {"datum": 182.25, "type": "quantitative", "title": null, "scale": {"domain": [-1.47, 182.25], "nice": false, "zero": false}},
  "y": {"datum": 35075.8, "type": "quantitative", "title": null, "scale": {"domain": [34034.2, 35068.3], "nice": false, "zero": false}}}},
{"data": {"name": "one"}, "mark": {"type": "text", "text": "MME (30)", "align": "left", "baseline": "middle", "fontSize": 12.5, "color": "#1f6fcc"},
 "encoding": {
  "x": {"datum": -0.49, "type": "quantitative", "title": null, "scale": {"domain": [-1.47, 182.25], "nice": false, "zero": false}},
  "y": {"datum": 35063.2, "type": "quantitative", "title": null, "scale": {"domain": [34034.2, 35068.3], "nice": false, "zero": false}}}},
{"data": {"name": "one"}, "mark": {"type": "text", "text": "PIVOTS", "align": "left", "baseline": "middle", "fontSize": 12.5, "color": "#6f6f6f"},
 "encoding": {
  "x": {"datum": 12.84, "type": "quantitative", "title": null, "scale": {"domain": [-1.47, 182.25], "nice": false, "zero": false}},
  "y": {"datum": 35063.2, "type": "quantitative", "title": null, "scale": {"domain": [34034.2, 35068.3], "nice": false, "zero": false}}}},
{"data": {"name": "one"}, "mark": {"type": "text", "text": "MMT (20)", "align": "left", "baseline": "middle", "fontSize": 12.5, "color": "#1f6fcc"},
 "encoding": {
  "x": {"datum": 23.63, "type": "quantitative", "title": null, "scale": {"domain": [-1.47, 182.25], "nice": false, "zero": false}},
  "y": {"datum": 35063.2, "type": "quantitative", "title": null, "scale": {"domain": [34034.2, 35068.3], "nice": false, "zero": false}}}},
{"data": {"name": "one"}, "mark": {"type": "text", "text": "KELTNER (20, 2)", "align": "left", "baseline": "middle", "fontSize": 12.5, "color": "#43a047"},
 "encoding": {
  "x": {"datum": 36.96, "type": "quantitative", "title": null, "scale": {"domain": [-1.47, 182.25], "nice": false, "zero": false}},
  "y": {"datum": 35063.2, "type": "quantitative", "title": null, "scale": {"domain": [34034.2, 35068.3], "nice": false, "zero": false}}}}
]
}
